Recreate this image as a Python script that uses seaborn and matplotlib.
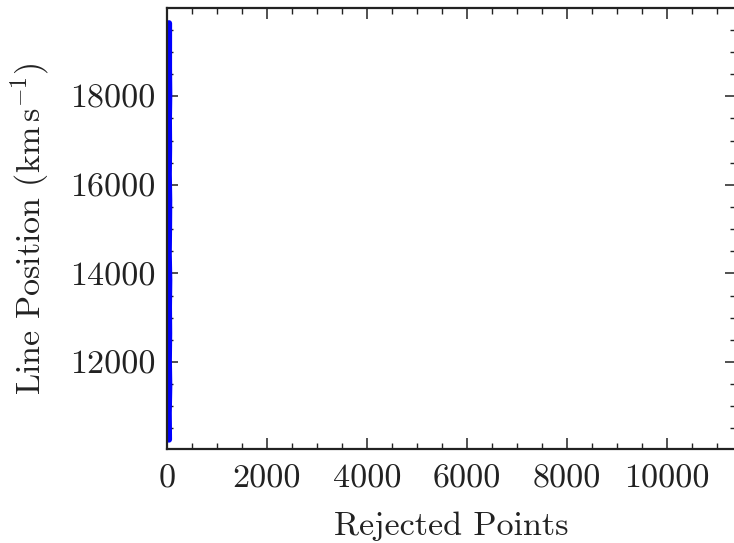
import matplotlib
matplotlib.use("Agg")
import matplotlib.pyplot as plt
import seaborn as sns
import numpy as np
from matplotlib.ticker import MultipleLocator

# data (rejected points vs line position)
rejected_points = [45, 40, 50, 42, 48, 44, 50, 40, 46, 49, 41, 47, 43, 50, 45, 46]
line_position = [10250, 10850, 11450, 12050, 12650, 13250, 13850, 14450,
                 15050, 15650, 16250, 16850, 17450, 18050, 18650, 19650]

x_ticks = [0, 2000, 4000, 6000, 8000, 10000]
y_ticks = [12000, 14000, 16000, 18000]

sns.set_style("ticks")
plt.rcParams.update({
    "font.family": "serif",
    "font.serif": ["cmr10"],
    "mathtext.fontset": "cm",
    "axes.formatter.use_mathtext": True,
    "axes.unicode_minus": False,
    "font.size": 24.5,
})

fig = plt.figure(figsize=(7.34, 5.43), dpi=100)
ax = fig.add_axes([166.7 / 734, 1 - 449.3 / 543, (735.5 - 166.7) / 734, (449.3 - 8) / 543])

sns.lineplot(x=rejected_points, y=line_position, sort=False, estimator=None,
             color="blue", linewidth=4.5, ax=ax)

ax.set_xlim(0, 11370)
ax.set_ylim(10030, 19995)
ax.set_xticks(x_ticks)
ax.set_yticks(y_ticks)
ax.set_xticklabels([str(v) for v in x_ticks])
ax.set_yticklabels([str(v) for v in y_ticks])
ax.xaxis.set_minor_locator(MultipleLocator(500))
ax.yaxis.set_minor_locator(MultipleLocator(500))

for s in ax.spines.values():
    s.set_visible(True)
    s.set_linewidth(1.6)
    s.set_color("#222222")

ax.tick_params(which="both", direction="in", top=True, right=True, color="#222222")
ax.tick_params(which="major", length=8, width=1.1, labelsize=24.5, pad=8, labelcolor="#222222")
ax.tick_params(axis="x", which="major", pad=11)
ax.tick_params(which="minor", length=4, width=1.0)

ax.set_xlabel("Rejected Points", fontsize=24.5, color="#222222", labelpad=13)
ax.set_ylabel(r"Line Position (km$\,$s$^{-1}$)", fontsize=24.5, color="#222222", labelpad=14)

fig.savefig("out.png", dpi=100)
